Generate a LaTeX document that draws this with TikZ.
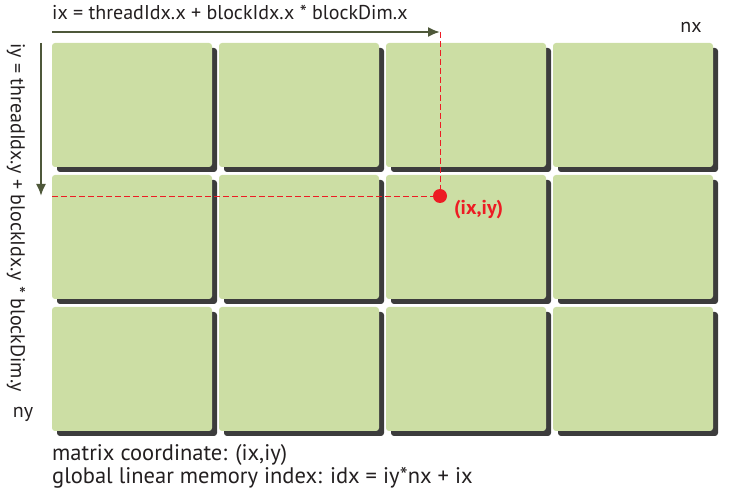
\documentclass[tikz,border=0pt]{standalone}
\usepackage{fontspec}
\setmainfont{PT Sans}
\usetikzlibrary{arrows.meta, positioning, shadows}

\definecolor{blockgreen}{RGB}{204,222,164}
\definecolor{shadowgray}{RGB}{60,60,60}
\definecolor{axisgreen}{RGB}{78,88,58}
\definecolor{markred}{RGB}{237,28,36}
\definecolor{textdark}{RGB}{35,31,32}

\begin{document}
\begin{tikzpicture}[x=1pt, y=-1pt,
    block/.style={rectangle, rounded corners=3pt, fill=blockgreen, inner sep=0pt,
        minimum width=160pt, minimum height=124pt,
        drop shadow={shadow xshift=5pt, shadow yshift=-5pt, fill=shadowgray, opacity=1}},
    axis/.style={axisgreen, line width=2pt, -{Latex[length=12pt, width=10pt]}},
    guide/.style={markred, line width=0.9pt, dash pattern=on 6pt off 3pt},
    label/.style={text=textdark, font=\fontsize{20}{24}\selectfont, inner sep=0pt},
    note/.style={text=textdark, font=\fontsize{22.5}{26}\selectfont, inner sep=0pt, anchor=west}
]
\useasboundingbox (0,0) rectangle (732,489);

% Grid of blocks
\foreach \i in {0,1,2,3} {
    \foreach \j in {0,1,2} {
        \node[block] (b-\i-\j) at (132+167*\i, 105+132*\j) {};
    }
}

% Index axes
\coordinate (xstart) at (52,32);
\coordinate (xend) at (440,32);
\coordinate (ystart) at (41,43);
\coordinate (yend) at (41,196);
\coordinate (hstart) at (52,196);
\draw[axis] (xstart) -- (xend);
\draw[axis] (ystart) -- (yend);

\node[label, anchor=west] (ixlabel) at (52,12) {ix = threadIdx.x + blockIdx.x * blockDim.x};
\node[label, anchor=west, rotate=-90] (iylabel) at (16,43) {iy = threadIdx.y + blockIdx.y * blockDim.y};
\node[label] (nx) at (691,27) {nx};
\node[label] (ny) at (23,414) {ny};

% Thread position
\node[circle, fill=markred, minimum size=14pt, inner sep=0pt] (pt) at (440,196) {};
\draw[guide] (xend) -- (pt);
\draw[guide] (hstart) -- (pt);
\node[label, anchor=west, text=markred, font=\fontsize{20}{24}\selectfont\bfseries] (ptlabel) at (454,210) {(ix,iy)};

% Notes
\node[note] (coord) at (52,455) {matrix coordinate: (ix,iy)};
\node[note] (memidx) at (52,478) {global linear memory index: idx = iy*nx + ix};
\end{tikzpicture}
\end{document}
